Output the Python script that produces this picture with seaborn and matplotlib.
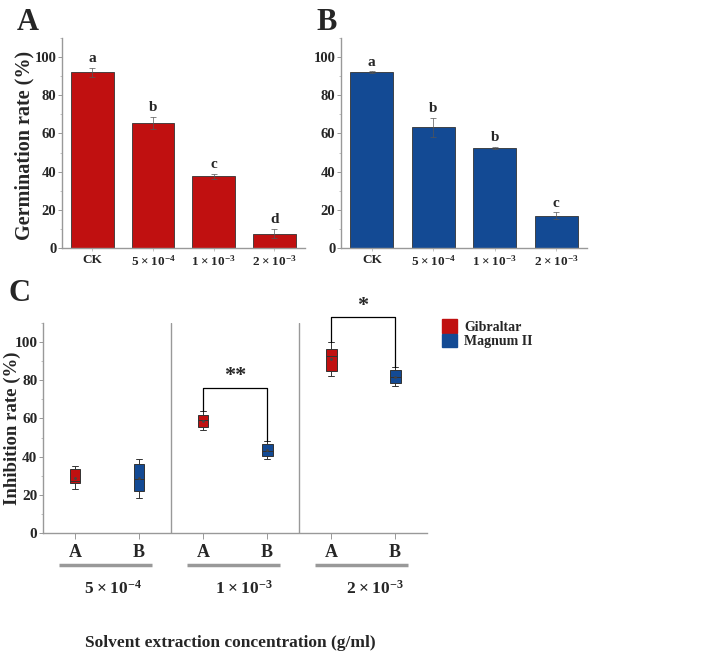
import pandas as pd
import numpy as np
import matplotlib
matplotlib.use("Agg")
import matplotlib.pyplot as plt
import seaborn as sns
from matplotlib.patches import Patch
from matplotlib.ticker import MultipleLocator
import matplotlib.transforms as mtransforms

# ---- data ----
conc_labels = ["CK", r"$\mathbf{5\times10^{-4}}$", r"$\mathbf{1\times10^{-3}}$", r"$\mathbf{2\times10^{-3}}$"]
conc_keys = ["CK", "5e-4", "1e-3", "2e-3"]

germ_a = [92.0, 65.5, 37.5, 7.5]
err_a = [2.2, 3.0, 1.5, 2.5]
sig_a = ["a", "b", "c", "d"]

germ_b = [92.0, 63.3, 52.3, 16.8]
err_b = [0.5, 5.0, 0.5, 1.8]
sig_b = ["a", "b", "b", "c"]

# inhibition rate boxes: min, q1, median, q3, max
box_slots = ["A1", "B1", "A2", "B2", "A3", "B3"]
box_variety = ["Gibraltar", "Magnum II", "Gibraltar", "Magnum II", "Gibraltar", "Magnum II"]
box_vals = [
    [23.0, 26.0, 27.5, 33.5, 35.0],
    [18.5, 22.0, 28.5, 36.0, 39.0],
    [54.0, 55.5, 59.0, 62.0, 64.0],
    [39.0, 40.5, 43.0, 46.5, 48.0],
    [82.5, 85.0, 92.5, 96.5, 100.0],
    [77.0, 78.5, 81.5, 85.5, 87.0],
]
group_labels = [r"$\mathbf{5\times10^{-4}}$", r"$\mathbf{1\times10^{-3}}$", r"$\mathbf{2\times10^{-3}}$"]

RED = "#C01010"
BLUE = "#134A94"

sns.set_style("white")
plt.rcParams["font.family"] = ["Liberation Serif", "DejaVu Serif"]
plt.rcParams["font.weight"] = "bold"
plt.rcParams["mathtext.fontset"] = "custom"
plt.rcParams["mathtext.rm"] = "Liberation Serif"
plt.rcParams["mathtext.bf"] = "Liberation Serif:bold"

fig = plt.figure(figsize=(7.14, 6.56), dpi=100)
axA = fig.add_axes([0.0868, 0.622, 0.340, 0.320])
axB = fig.add_axes([0.4776, 0.622, 0.3445, 0.320])
axC = fig.add_axes([0.0602, 0.1875, 0.538, 0.320])


def bar_panel(ax, vals, errs, sigs, color):
    df = pd.DataFrame({"conc": conc_keys, "rate": vals})
    sns.barplot(data=df, x="conc", y="rate", color=color, width=0.7, ax=ax,
                edgecolor="#333333", linewidth=0.6, saturation=1)
    x = np.arange(len(vals))
    ax.errorbar(x, vals, yerr=errs, fmt="none", ecolor="#555555", elinewidth=0.5,
                capsize=2, capthick=0.5)
    for xi, v, e, s in zip(x, vals, errs, sigs):
        ax.text(xi, v + e + 1.5, s, ha="center", va="bottom", fontsize=11, fontweight="bold")
    ax.set_xlim(-0.5, 3.5)
    ax.set_ylim(0, 110)
    ax.yaxis.set_major_locator(MultipleLocator(20))
    ax.yaxis.set_minor_locator(MultipleLocator(10))
    ax.set_xticks(x)
    ax.set_xticklabels(conc_labels, fontsize=9.5)
    ax.set_xlabel("")
    ax.tick_params(axis="y", which="major", left=True, length=3, width=0.6, color="#888888", labelsize=10.5, pad=1)
    ax.tick_params(axis="y", which="minor", left=True, length=1.5, width=0.5, color="#aaaaaa")
    ax.tick_params(axis="x", bottom=True, length=2, width=0.5, color="#aaaaaa", pad=2)
    for sp in ["top", "right"]:
        ax.spines[sp].set_visible(False)
    for sp in ["left", "bottom"]:
        ax.spines[sp].set_color("#999999")
        ax.spines[sp].set_linewidth(1.0)
    for lab in ax.get_yticklabels():
        lab.set_fontweight("bold")


bar_panel(axA, germ_a, err_a, sig_a, RED)
axA.set_ylabel("Germination rate (%)", fontsize=14.5, fontweight="bold")
axA.yaxis.set_label_coords(-0.115, 0.49)
bar_panel(axB, germ_b, err_b, sig_b, BLUE)
axB.set_ylabel("")

# ---- panel C ----
rows = []
for slot, var, vals in zip(box_slots, box_variety, box_vals):
    for v in vals:
        rows.append({"slot": slot, "variety": var, "rate": v})
dfc = pd.DataFrame(rows)

sns.boxplot(data=dfc, x="slot", y="rate", hue="variety", order=box_slots,
            palette={"Gibraltar": RED, "Magnum II": BLUE}, dodge=False, width=0.17,
            whis=(0, 100), linewidth=0.7, linecolor="#333333", saturation=1,
            showmeans=True, meanprops=dict(marker="o", markersize=1, markerfacecolor="#444444",
                                           markeredgecolor="#444444"),
            legend=False, ax=axC)
axC.set_xlim(-0.5, 5.5)
axC.set_ylim(0, 110)
axC.yaxis.set_major_locator(MultipleLocator(20))
axC.yaxis.set_minor_locator(MultipleLocator(10))
axC.set_xticks(range(6))
axC.set_xticklabels(["A", "B", "A", "B", "A", "B"], fontsize=13, fontweight="bold")
axC.set_xlabel("")
axC.set_ylabel("Inhibition rate (%)", fontsize=13.5, fontweight="bold")
axC.yaxis.set_label_coords(-0.058, 0.5)
axC.tick_params(axis="y", which="major", left=True, length=3, width=0.6, color="#888888", labelsize=11, pad=1)
axC.tick_params(axis="y", which="minor", left=True, length=1.5, width=0.5, color="#aaaaaa")
axC.tick_params(axis="x", bottom=True, length=4, width=0.6, color="#888888", pad=4)
for lab in axC.get_yticklabels():
    lab.set_fontweight("bold")
for sp in ["top", "right"]:
    axC.spines[sp].set_visible(False)
for sp in ["left", "bottom"]:
    axC.spines[sp].set_color("#999999")
    axC.spines[sp].set_linewidth(1.0)
for xv in [1.5, 3.5]:
    axC.axvline(xv, color="#999999", lw=1.0)

# significance brackets
def bracket(ax, x1, x2, y1, y2, top, txt):
    ax.plot([x1, x1, x2, x2], [y1, top, top, y2], color="black", lw=0.9, clip_on=False)
    ax.text((x1 + x2) / 2, top + 0.8, txt, ha="center", va="bottom", fontsize=16, fontweight="bold",
            clip_on=False)

bracket(axC, 2, 3, box_vals[2][-1], box_vals[3][-1], 76, "**")
bracket(axC, 4, 5, box_vals[4][-1], box_vals[5][-1], 113, "*")

# group bars and labels under the x axis
trans = mtransforms.blended_transform_factory(axC.transData, axC.transAxes)
for g, lab in enumerate(group_labels):
    a = 2 * g
    axC.plot([a - 0.25, a + 1.2], [-0.152, -0.152], color="#999999", lw=2.5,
             transform=trans, clip_on=False, solid_capstyle="butt")
    axC.text(a + 0.6 + 0.04 * g, -0.265, lab, ha="center", va="center", fontsize=12.5, transform=trans)

axC.text(0.487, -0.525, "Solvent extraction concentration (g/ml)", ha="center", va="center",
         fontsize=12.5, fontweight="bold", transform=axC.transAxes)

# legend
handles = [Patch(facecolor=RED, edgecolor=RED, label="Gibraltar"),
           Patch(facecolor=BLUE, edgecolor=BLUE, label="Magnum II")]
fig.legend(handles=handles, loc="upper left", bbox_to_anchor=(0.619, 0.513), frameon=False,
           handlelength=1.1, handleheight=1.1, labelspacing=0, handletextpad=0.5,
           borderpad=0, borderaxespad=0, prop={"size": 10, "weight": "bold"})

# panel letters
fig.text(0.023, 0.965, "A", fontsize=22, fontweight="bold", va="center")
fig.text(0.443, 0.965, "B", fontsize=22, fontweight="bold", va="center")
fig.text(0.012, 0.553, "C", fontsize=22, fontweight="bold", va="center")

fig.savefig("out.png", dpi=100)
